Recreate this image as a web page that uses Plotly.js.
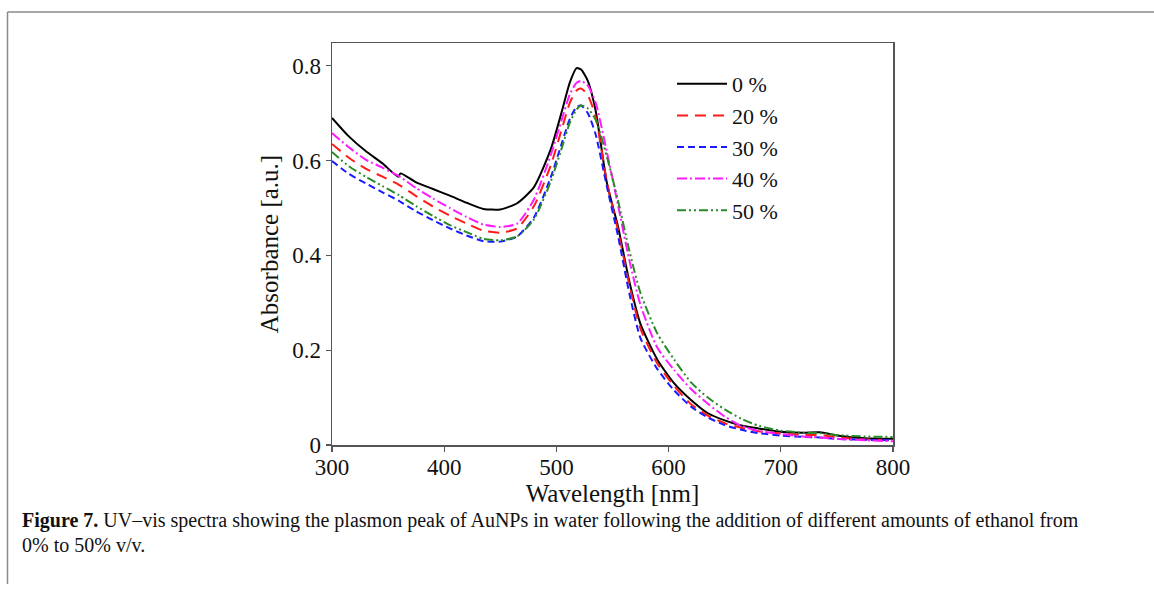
<!DOCTYPE html>
<html>
<head>
<meta charset="utf-8">
<script src="https://cdn.plot.ly/plotly-3.0.1.min.js"></script>
<style>
html,body{margin:0;padding:0;background:#fff;}
#chart{width:1154px;height:593px;}
</style>
</head>
<body>
<div id="chart"></div>
<script>
// Wavelength grid [nm]
const wavelength = [300,315,330,345,359,361,375,390,405,420,435,450,465,480,495,505,512,518,522,528,535,545,555,565,575,590,605,620,635,650,665,680,700,720,735,750,775,800];
// Absorbance for each ethanol fraction
const abs0  = [0.690,0.651,0.620,0.594,0.566,0.573,0.554,0.540,0.526,0.511,0.498,0.497,0.510,0.544,0.624,0.705,0.765,0.795,0.792,0.768,0.705,0.553,0.460,0.345,0.255,0.180,0.130,0.095,0.067,0.052,0.041,0.035,0.028,0.026,0.027,0.020,0.014,0.013];
const abs20 = [0.635,0.606,0.583,0.566,0.550,0.547,0.525,0.503,0.484,0.467,0.452,0.448,0.457,0.504,0.590,0.668,0.722,0.748,0.752,0.738,0.692,0.555,0.452,0.338,0.245,0.172,0.124,0.086,0.062,0.046,0.036,0.029,0.024,0.021,0.021,0.016,0.012,0.010];
const abs30 = [0.599,0.572,0.552,0.533,0.516,0.513,0.493,0.474,0.457,0.442,0.430,0.429,0.440,0.480,0.565,0.638,0.688,0.713,0.716,0.700,0.655,0.545,0.440,0.320,0.225,0.160,0.115,0.081,0.058,0.042,0.032,0.025,0.020,0.017,0.016,0.013,0.011,0.010];
const abs40 = [0.658,0.628,0.602,0.585,0.568,0.565,0.542,0.520,0.500,0.481,0.465,0.460,0.467,0.518,0.612,0.688,0.740,0.764,0.768,0.758,0.722,0.618,0.505,0.390,0.295,0.205,0.158,0.118,0.087,0.060,0.040,0.030,0.023,0.018,0.016,0.013,0.010,0.008];
const abs50 = [0.618,0.588,0.566,0.546,0.528,0.525,0.504,0.483,0.464,0.449,0.435,0.432,0.440,0.476,0.556,0.628,0.680,0.708,0.716,0.710,0.686,0.608,0.515,0.410,0.320,0.235,0.180,0.132,0.100,0.075,0.055,0.041,0.030,0.026,0.025,0.021,0.018,0.017];

const seriesNames = ['0 %','20 %','30 %','40 %','50 %'];
const xTicks = [300,400,500,600,700,800];
const yTicks = [0,0.2,0.4,0.6,0.8];
const yTickText = ['0','0.2','0.4','0.6','0.8'];

const styles = [
  {color:'#000000', dash:'solid'},
  {color:'#ff1a1a', dash:'11px,7px'},
  {color:'#1a1aff', dash:'7px,4px'},
  {color:'#ff1aff', dash:'10px,3px,2px,3px'},
  {color:'#2a8a2a', dash:'9px,3px,2px,3px,2px,3px'}
];
const series = [abs0,abs20,abs30,abs40,abs50];

const traces = series.map((y,i)=>({
  x: wavelength, y: y, type:'scatter', mode:'lines', name: seriesNames[i],
  line:{color:styles[i].color, dash:styles[i].dash, width:2, shape:'spline', smoothing:0.6}
}));

const FONT = 'Liberation Serif, Times New Roman, serif';
const L=332, R=893, T=43, B=445, W=1154, H=593;
const px = v => (v-L)/(R-L);
const py = v => (B-v)/(B-T);

const layout = {
  width:W, height:H,
  margin:{l:L, r:W-R, t:T, b:H-B, pad:0},
  paper_bgcolor:'#fff', plot_bgcolor:'#fff',
  font:{family:FONT, color:'#111', size:22},
  showlegend:true,
  legend:{x:px(672), y:py(63), xanchor:'left', yanchor:'top', bgcolor:'rgba(0,0,0,0)',
          font:{family:FONT, size:22, color:'#111'}, tracegroupgap:0, itemwidth:50},
  xaxis:{range:[300,800], tickvals:xTicks, ticktext:xTicks.map(String), ticks:'outside', ticklen:5, tickwidth:1.2,
         tickcolor:'#555', showline:true, linecolor:'#555', linewidth:1.5, mirror:true, showgrid:false, zeroline:false,
         ticklabelstandoff:-4,
         tickfont:{family:FONT, size:23, color:'#111'},
         title:{text:'Wavelength [nm]', font:{family:FONT, size:25, color:'#111'}, standoff:0}},
  yaxis:{range:[0,0.848], tickvals:yTicks, ticktext:yTickText, ticks:'outside', ticklen:5, tickwidth:1.2,
         tickcolor:'#555', showline:true, linecolor:'#555', linewidth:1.5, mirror:true, showgrid:false, zeroline:false,
         tickfont:{family:FONT, size:23, color:'#111'},
         title:{text:'Absorbance [a.u.]', font:{family:FONT, size:25, color:'#111'}, standoff:6}},
  shapes:[
    {type:'line', xref:'paper', yref:'paper', x0:px(7.5), x1:px(7.5), y0:py(12), y1:py(584), line:{color:'#8a8a8a', width:1.5}},
    {type:'line', xref:'paper', yref:'paper', x0:px(7.5), x1:px(1154), y0:py(12), y1:py(12), line:{color:'#8a8a8a', width:1.5}}
  ],
  annotations:[
    {xref:'paper', yref:'paper', x:px(20), y:py(520), xanchor:'left', yanchor:'middle', showarrow:false, align:'left',
     font:{family:FONT, size:20, color:'#111'},
     text:'<b>Figure 7.</b> UV–vis spectra showing the plasmon peak of AuNPs in water following the addition of different amounts of ethanol from'},
    {xref:'paper', yref:'paper', x:px(20), y:py(545), xanchor:'left', yanchor:'middle', showarrow:false, align:'left',
     font:{family:FONT, size:20, color:'#111'},
     text:'0% to 50% v/v.'}
  ]
};

Plotly.newPlot('chart', traces, layout, {displayModeBar:false, staticPlot:true});
</script>
</body>
</html>
